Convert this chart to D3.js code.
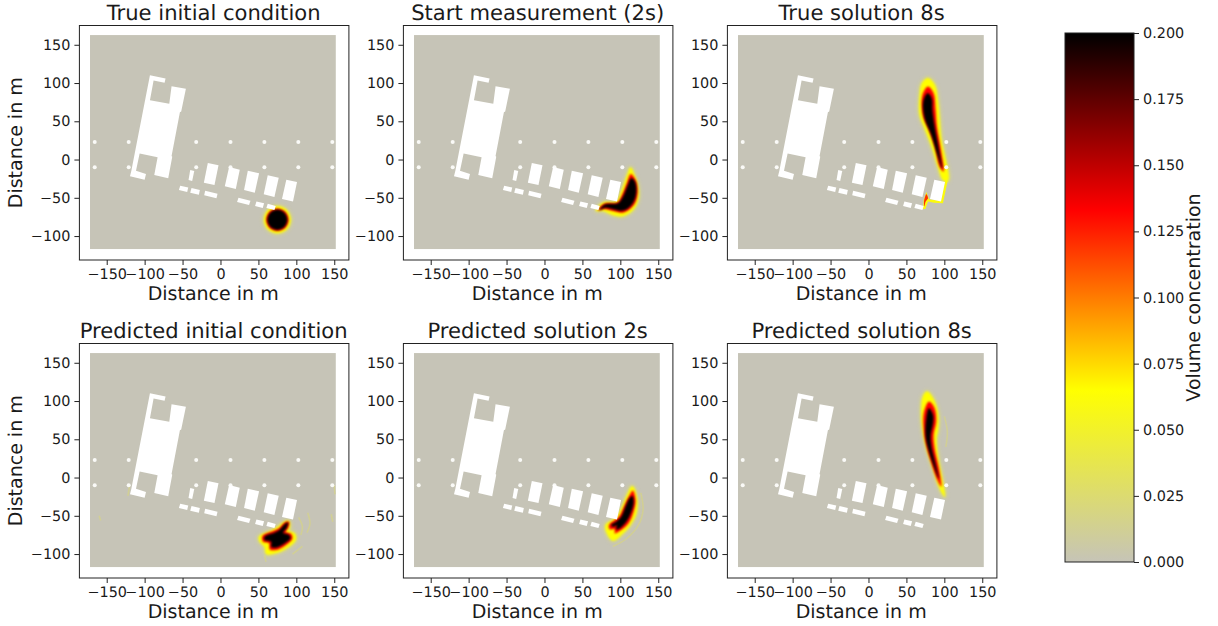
<!DOCTYPE html>
<html><head><meta charset="utf-8">
<style>html,body{margin:0;padding:0;background:#fff}svg{display:block}text{font-family:"DejaVu Sans";fill:#1a1a1a;text-rendering:geometricPrecision}</style>
<script src="https://cdn.jsdelivr.net/npm/d3@7"></script></head><body>
<script>
// ---- data (all coordinates in metres, concentrations in volume fraction)
const panelTitles = ["True initial condition","Start measurement (2s)","True solution 8s","Predicted initial condition","Predicted solution 2s","Predicted solution 8s"];
const xTicks = [-150,-100,-50,0,50,100,150];
const yTicks = [-100,-50,0,50,100,150];
const cbTicks = [0,0.025,0.05,0.075,0.1,0.125,0.15,0.175,0.2];
const xDomain = [-186,169.3];
const yDomain = [-131.3,175.2];
const fieldExtent = [[-172,162.7],[152,-117]];
const colorStops = [[0,"#c6c4b7"],[0.065,"#ffff00"],[0.133,"#ff0000"],[0.2,"#000000"]];
const poleX = [-165.8,-121,-32,13.2,57.9,102.6,147.4];
const poleY = [23,-10];
const mainBuilding = [[-93,110.3],[-72.4,105.9],[-73.7,100.3],[-88.2,103.3],[-93,77.6],[-67.5,72.8],[-64.5,95.9],[-45.6,92.4],[-51.8,62.7],[-53.5,61.9],[-64.5,4.7],[-63.6,3.8],[-68.9,-24.5],[-87.3,-20.2],[-82.9,3],[-106.6,7.8],[-111.4,-14.5],[-98.2,-18.8],[-100,-26.3],[-119.3,-21.9],[-117.5,-14.5]];
const smallBlocks = [
 [[-39.9,-13.7],[-34.6,-14.9],[-37.3,-28.1],[-42.1,-26.8]],
 [[-16.7,-4.5],[-2.6,-7.5],[-7.9,-33.3],[-21.9,-30.2]],
 [[11.4,-9.7],[25.4,-13.2],[20.2,-38.5],[5.7,-35]],
 [[36,-14.5],[50.9,-18],[45.2,-43.3],[31.1,-39.8]],
 [[62.3,-20.6],[76.8,-23.7],[71.1,-49],[57,-45.5]],
 [[86.8,-26.3],[100.9,-29.2],[95.6,-55],[81.1,-51.6]],
 [[-53.1,-34.2],[-42.5,-36.7],[-43.9,-42.4],[-54.8,-39.8]],
 [[-38.2,-37.2],[-27.2,-39.8],[-28.5,-45.9],[-39.9,-43.3]],
 [[-20.2,-40.7],[-3.9,-44.6],[-5.3,-50.7],[-21.5,-46.8]],
 [[23.7,-49.8],[39.5,-53.8],[37.7,-59.4],[21.9,-55.5]],
 [[47.4,-54.7],[57.5,-57.2],[55.7,-63.4],[45.6,-60.7]],
 [[62.3,-57.7],[72.8,-60.7],[71.1,-66],[60.5,-63.4]]
];
// plume contours per panel at three concentration levels
const contourLevels = [0.065,0.133,0.2];
const plume1 = [
 [[92.5,-78.7],[87.4,-66.3],[75,-61.2],[62.6,-66.3],[57.5,-78.7],[62.6,-91.1],[75,-96.2],[87.4,-91.1]],
 [[89.8,-78.7],[85.5,-68.2],[75,-63.9],[64.5,-68.2],[60.2,-78.7],[64.5,-89.2],[75,-93.5],[85.5,-89.2]],
 [[88,-78.7],[84.2,-69.5],[75,-65.7],[65.8,-69.5],[62,-78.7],[65.8,-87.9],[75,-91.7],[84.2,-87.9]]
];
const plume2 = [
 [[67.5,-66.9],[77.1,-56.4],[94.7,-55],[101.3,-41.9],[110,-18],[113.6,-10.1],[117.5,-18],[123.3,-35.4],[123.3,-52.9],[116.6,-66],[103.5,-73.8],[90.3,-72.5],[77.1,-66.9]],
 [[70.6,-66.5],[78.5,-57.7],[96,-56.2],[102.2,-46.3],[109.2,-29],[113.6,-18.9],[120.1,-26.7],[122.8,-42],[119.3,-57.2],[111,-66],[102.2,-69.6],[90.3,-67.4],[78.5,-64.7]],
 [[72.8,-66],[79.3,-59],[96.9,-57.2],[103.5,-48.5],[110,-33.3],[114.4,-24.5],[119.3,-28.9],[121,-42],[117.5,-55],[110,-63.8],[101.3,-66.9],[90.3,-64.7],[79.3,-62.9]]
];
const plume3 = [
 [[78.5,106.4],[87.2,97.6],[91.6,75.8],[93.8,51.8],[96,25.7],[101.7,-0.5],[105.7,-24.5],[103.5,-28.9],[98.2,-26.7],[91.6,-9.2],[84.2,14.7],[74.1,40.9],[67.5,58.4],[67.5,82.4],[70.6,99.8]],
 [[78.5,95.5],[85.9,86.7],[88.6,64.9],[90.3,43.1],[95.6,12.6],[99.1,-15.8],[93.8,-9.3],[87.2,16.9],[78.5,40.9],[71.9,56.2],[70.1,78],[72.8,88.9]],
 [[78,86.7],[83.3,80.2],[84.2,64.9],[87.2,43.1],[92.9,12.6],[96.9,-11.4],[91.6,3.8],[82.9,32.2],[74.1,54],[72.3,75.8]]
];
const plume3Hook = [[104.4,-27.6],[98.2,-57.2],[85.9,-56.4],[78.5,-55],[75,-64.6],[71.9,-64.6],[72.8,-52.9],[76.3,-42.4],[79.8,-52],[87.2,-52.9],[95.1,-53.7],[101.3,-26.7]];
const plume3Spot = [[76.3,-45.5],[78.5,-50.7],[75.4,-55],[73.7,-61.5],[73.2,-55],[74.5,-49.3]];
const plume4 = [
 [[90.3,-56.8],[91.2,-66.4],[89,-69.5],[97.8,-73],[99.1,-81.7],[86.8,-92.6],[71.4,-99.1],[60.5,-100],[58.3,-90.4],[51.7,-83.9],[50.8,-77.3],[67,-69.5],[75.8,-64.2],[84.6,-57.7]],
 [[90.3,-57.7],[89,-66.4],[85.9,-70.8],[93.4,-73.8],[94.7,-80.4],[85.5,-88.7],[73.6,-94.8],[64.9,-93.9],[64,-86],[56.1,-83.9],[55.2,-76.5],[69.3,-69.9],[77.1,-66.4],[84.6,-58.6]],
 [[89,-59],[86.8,-66.4],[82.4,-72.1],[90.3,-75.1],[92.1,-79.5],[84.6,-86],[73.6,-91.3],[67,-90.4],[67,-83.9],[58.3,-81.7],[58.3,-77.3],[71.4,-72.1],[78,-68.6],[84.6,-61.2]]
];
const plume5 = [
 [[115.7,-11],[121.9,-27.1],[121,-46.8],[113.1,-62],[103.5,-72.9],[90.3,-82.5],[82.4,-72.9],[80.6,-62],[90.3,-55.5],[96.9,-48.9],[103.5,-35.9],[110,-20.6]],
 [[116.6,-17.1],[120.1,-29.3],[117.5,-44.6],[110.9,-59.9],[101.3,-68.6],[92.5,-72.9],[92.5,-67.7],[85.9,-67.7],[85,-62],[92.5,-55.5],[98.2,-51.1],[105.7,-35.9],[112.2,-22.8]],
 [[115.7,-24.1],[117.5,-31.5],[114.4,-44.6],[107.8,-57.7],[99.1,-66.4],[94.7,-67.7],[95.6,-62],[90.3,-64.2],[88.1,-62],[94.7,-57.7],[101.3,-51.1],[107.8,-35.9],[112.2,-27.1]]
];
const plume6 = [
 [[77.1,112.5],[85,103.8],[91.6,84.1],[91.6,62.3],[89.4,51.4],[91.6,27.4],[97.3,-3.1],[100.8,-25.8],[93.8,-14.1],[85,12.1],[75.4,42.7],[71,66.7],[69.7,88.5],[71.9,105.9]],
 [[79.8,99.4],[87.2,90.7],[89.4,73.2],[85.9,55.8],[87.2,38.3],[92.9,12.1],[96,-11.9],[90.7,-3.1],[82.9,18.7],[75.4,44.9],[72.8,62.3],[72.8,84.1]],
 [[79.8,90.7],[85,81.9],[85,71],[82,55.8],[82.9,40.5],[88.6,16.5],[92.5,-1],[87.2,12.1],[79.8,33.9],[75.4,53.6],[76.3,77.6]]
];
const plumes = [plume1,plume2,plume3,plume4,plume5,plume6];
// faint residual streaks of the network prediction (~0.012)
const faint4 = [
 [[103,-52],[108,-64],[106,-75]],[[115,-46],[118,-60],[114,-72]],[[146,-48],[148,-58]],[[-120,-12],[-122,-24]],
 [[-160,-50],[-158,-56]],[[150,-10],[151,-22]],[[95,-100],[108,-90]],[[58,-102],[60,-110]]
];
const faint5 = [[[127,-20],[130,-42],[124,-62],[108,-80],[90,-90]]];
const faint6 = [[[100,80],[104,60],[102,40]]];
const faints = [[],[],[],faint4,faint5,faint6];

// ---- layout
const W=1218,H=626;
const colOffset=[79.4,403.4,727.4], rowOffset=[25.5,343.5];
const axW=269.5, axH=234.5;
const cb={x:1065,y:33,w:69,h:529};

const svg=d3.select("body").append("svg").attr("width",W).attr("height",H);
const defs=svg.append("defs");
[["halo",2.2],["soft0",1.0],["soft1",1.0],["soft2",0.8],["thin",0.5],["edge",0.5]].forEach(([id,s])=>{
  defs.append("filter").attr("id",id).attr("x","-30%").attr("y","-30%").attr("width","160%").attr("height","160%")
    .append("feGaussianBlur").attr("stdDeviation",s);
});

const color=d3.scaleLinear().domain(colorStops.map(d=>d[0])).range(colorStops.map(d=>d[1])).interpolate(d3.interpolateRgb);
const minusFmt=d=>d3.format("d")(d).replace("-","\u2212");

panelTitles.forEach((title,i)=>{
  const g=svg.append("g").attr("transform",`translate(${colOffset[i%3]},${rowOffset[Math.floor(i/3)]})`);
  const x=d3.scaleLinear().domain(xDomain).range([0,axW]);
  const y=d3.scaleLinear().domain(yDomain).range([axH,0]);
  const clipId="clip"+i;
  const fx=x(fieldExtent[0][0]),fy=y(fieldExtent[0][1]),fw=x(fieldExtent[1][0])-fx,fh=y(fieldExtent[1][1])-fy;
  defs.append("clipPath").attr("id",clipId).append("rect").attr("x",fx).attr("y",fy).attr("width",fw).attr("height",fh);
  g.append("rect").attr("x",fx).attr("y",fy).attr("width",fw).attr("height",fh).attr("fill",color(0)).attr("filter","url(#edge)");
  const line=d3.line().x(d=>x(d[0])).y(d=>y(d[1]));
  const closed=d3.line().x(d=>x(d[0])).y(d=>y(d[1])).curve(d3.curveCatmullRomClosed.alpha(0.5));
  const open=d3.line().x(d=>x(d[0])).y(d=>y(d[1])).curve(d3.curveCatmullRom.alpha(0.5));
  const pg=g.append("g").attr("clip-path",`url(#${clipId})`);
  pg.append("g").attr("filter","url(#thin)").selectAll("path").data(faints[i]).join("path").attr("d",open)
    .attr("fill","none").attr("stroke",color(0.012)).attr("stroke-width",1.6);
  // soft pale halo just outside the yellow contour
  pg.append("path").attr("filter","url(#halo)").attr("d",closed(plumes[i][0]))
    .attr("fill",color(0.04)).attr("stroke",color(0.04)).attr("stroke-width",1);
  if(i===2){
    pg.append("path").attr("filter","url(#thin)").attr("d",line(plume3Hook)+"Z").attr("fill",color(0.06));
  }
  plumes[i].forEach((poly,k)=>{
    const p=pg.append("path").attr("filter",`url(#soft${k})`).attr("d",closed(poly)).attr("fill",color(contourLevels[k]));
    if(k===2) p.attr("stroke","#000").attr("stroke-width",0.4);
  });
  if(i===2){
    pg.append("path").attr("filter","url(#thin)").attr("d",closed(plume3Spot)).attr("fill",color(0.12));
  }
  // poles and buildings
  const bg=g.append("g").attr("filter","url(#edge)");
  poleY.forEach(py=>poleX.forEach(px=>{
    bg.append("circle").attr("cx",x(px)).attr("cy",y(py)).attr("r",2).attr("fill","#fafaf7");
  }));
  bg.append("path").attr("d",line(mainBuilding)+"Z").attr("fill","#fff");
  bg.selectAll("path.b").data(smallBlocks).join("path").attr("class","b").attr("d",d=>line(d)+"Z").attr("fill","#fff");

  // axes
  const ax=g.append("g").attr("transform",`translate(0,${axH})`).call(d3.axisBottom(x).tickValues(xTicks).tickSize(5).tickPadding(4).tickFormat(minusFmt));
  const ay=g.append("g").call(d3.axisLeft(y).tickValues(yTicks).tickSize(5).tickPadding(4).tickFormat(minusFmt));
  [ax,ay].forEach(a=>{a.select(".domain").remove();a.selectAll("line").attr("stroke","#222");a.selectAll("text").attr("font-size",14.4).attr("font-family","DejaVu Sans").attr("fill","#1a1a1a");});
  g.append("rect").attr("width",axW).attr("height",axH).attr("fill","none").attr("stroke","#222").attr("stroke-width",1);
  g.append("text").attr("x",axW/2-0.5).attr("y",-6).attr("text-anchor","middle").attr("font-size",21.1).text(title);
  g.append("text").attr("x",axW/2-1).attr("y",axH+39.5).attr("text-anchor","middle").attr("font-size",19).text("Distance in m");
  if(i%3===0){
    g.append("text").attr("transform",`translate(-57,${axH/2}) rotate(-90)`).attr("text-anchor","middle").attr("font-size",19).text("Distance in m");
  }
});

// colorbar
const cs=d3.scaleLinear().domain([0,0.2]).range([cb.h,0]);
const gc=svg.append("g").attr("transform",`translate(${cb.x},${cb.y})`);
const grad=defs.append("linearGradient").attr("id","cbg").attr("x1",0).attr("y1",1).attr("x2",0).attr("y2",0);
colorStops.forEach(s=>grad.append("stop").attr("offset",s[0]/0.2).attr("stop-color",s[1]));
gc.append("rect").attr("width",cb.w).attr("height",cb.h).attr("fill","url(#cbg)");
gc.append("rect").attr("width",cb.w).attr("height",cb.h).attr("fill","none").attr("stroke","#222").attr("stroke-width",1);
const ac=gc.append("g").attr("transform",`translate(${cb.w},0)`).call(d3.axisRight(cs).tickValues(cbTicks).tickSize(5).tickPadding(4).tickFormat(d3.format(".3f")));
ac.select(".domain").remove();ac.selectAll("line").attr("stroke","#222");ac.selectAll("text").attr("font-size",14.4).attr("font-family","DejaVu Sans").attr("fill","#1a1a1a");
gc.append("text").attr("transform",`translate(${cb.w+66},${cb.h/2}) rotate(-90)`).attr("text-anchor","middle").attr("font-size",19).text("Volume concentration");
</script></body></html>
